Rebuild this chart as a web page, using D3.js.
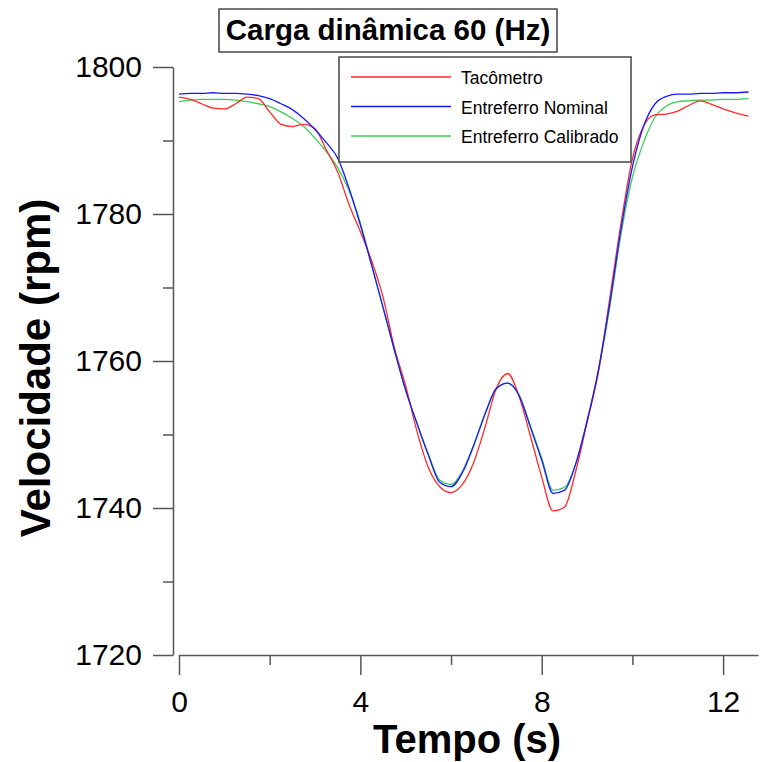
<!DOCTYPE html>
<html>
<head>
<meta charset="utf-8">
<script src="https://cdn.jsdelivr.net/npm/d3@7"></script>
<style>
  html, body { margin: 0; padding: 0; background: #fff; }
  svg { display: block; font-family: "Liberation Sans", Arial, sans-serif; }
</style>
</head>
<body>
<svg id="chart" width="760" height="762"></svg>
<script>
// ---- data ----
const title = "Carga dinâmica 60 (Hz)";
const xLabel = "Tempo (s)";
const yLabel = "Velocidade (rpm)";
const seriesNames = ["Tacômetro", "Entreferro Nominal", "Entreferro Calibrado"];
const seriesColors = ["#ff2a2a", "#1a1aff", "#3ccc5a"];
const xMajorTicks = [0, 4, 8, 12];
const xMinorTicks = [2, 6, 10];
const yMajorTicks = [1720, 1740, 1760, 1780, 1800];
const yMinorTicks = [1730, 1750, 1770, 1790];

const tempo = [0, 0.25, 0.5, 0.75, 1.0, 1.25, 1.5, 1.75, 2.0, 2.25, 2.5, 2.75, 3.0, 3.25, 3.5, 3.75,
  4.0, 4.25, 4.5, 4.75, 5.0, 5.25, 5.5, 5.75, 6.0, 6.25, 6.5, 6.75, 7.0, 7.25, 7.5, 7.75,
  8.0, 8.25, 8.5, 8.75, 9.0, 9.25, 9.5, 9.75, 10.0, 10.25, 10.5, 10.75, 11.0, 11.25, 11.5, 11.75,
  12.0, 12.25, 12.56];

const tacometro = [1795.9, 1795.6, 1795.0, 1794.4, 1794.3, 1795.0, 1795.9, 1795.7, 1793.9, 1792.2, 1791.9, 1792.2, 1791.6, 1788.7, 1785.7, 1781.3,
  1777.6, 1773.6, 1768.7, 1761.8, 1756.6, 1750.4, 1745.5, 1742.9, 1742.1, 1743.2, 1746.2, 1751.0, 1756.3, 1758.3, 1755.2, 1749.8,
  1744.2, 1739.6, 1740.1, 1745.0, 1751.7, 1758.5, 1768.5, 1778.8, 1787.5, 1792.0, 1793.5, 1793.6, 1794.0, 1794.8, 1795.4, 1794.9,
  1794.3, 1793.8, 1793.3];

const nominal = [1796.3, 1796.4, 1796.4, 1796.5, 1796.4, 1796.4, 1796.3, 1796.1, 1795.7, 1795.0, 1794.2, 1793.0, 1791.5, 1789.7, 1787.6, 1783.5,
  1778.5, 1773.0, 1767.3, 1761.5, 1756.0, 1751.5, 1747.2, 1743.5, 1742.9, 1744.8, 1748.5, 1752.8, 1756.3, 1757.0, 1755.3, 1751.0,
  1746.5, 1742.0, 1742.4, 1746.0, 1751.8, 1758.8, 1767.8, 1778.0, 1786.4, 1792.0, 1795.0, 1796.0, 1796.3, 1796.3, 1796.4, 1796.4,
  1796.5, 1796.5, 1796.6];

const calibrado = [1795.3, 1795.5, 1795.6, 1795.6, 1795.6, 1795.5, 1795.3, 1795.0, 1794.6, 1793.9, 1793.0, 1791.9, 1790.3, 1788.5, 1786.3, 1783.2,
  1778.8, 1773.0, 1767.3, 1761.5, 1756.0, 1751.5, 1747.3, 1743.8, 1743.2, 1745.0, 1748.6, 1752.8, 1756.2, 1757.0, 1755.4, 1751.2,
  1746.8, 1742.4, 1742.8, 1746.0, 1751.8, 1758.6, 1767.3, 1777.3, 1785.0, 1789.8, 1793.2, 1794.7, 1795.3, 1795.4, 1795.5, 1795.5,
  1795.6, 1795.6, 1795.7];

const seriesValues = [tacometro, nominal, calibrado];

// ---- drawing ----
const svg = d3.select("#chart");
const FONT = "'Liberation Sans', Arial, sans-serif";
const axisColor = "#555";

const x = d3.scaleLinear().domain([0, 12.77]).range([179, 758]);
const y = d3.scaleLinear().domain([1720, 1800]).range([655, 67]);

// X axis
const xAxisG = svg.append("g").attr("transform", "translate(0,655)");
xAxisG.call(d3.axisBottom(x).tickValues(xMajorTicks).tickSize(20).tickSizeOuter(0).tickFormat(d3.format("d")));
const xMinorG = svg.append("g").attr("transform", "translate(0,655)");
xMinorG.call(d3.axisBottom(x).tickValues(xMinorTicks).tickSize(10).tickSizeOuter(0).tickFormat(""));
xMinorG.select(".domain").remove();
xAxisG.selectAll("text").attr("y", 57).attr("dy", 0).style("font-size", "30px").style("font-family", FONT).attr("fill", "#000");

// Y axis
const yAxisG = svg.append("g").attr("transform", "translate(173,0)");
yAxisG.call(d3.axisLeft(y).tickValues(yMajorTicks).tickSize(20).tickSizeOuter(0).tickPadding(11).tickFormat(d3.format("d")));
const yMinorG = svg.append("g").attr("transform", "translate(173,0)");
yMinorG.call(d3.axisLeft(y).tickValues(yMinorTicks).tickSize(10).tickSizeOuter(0).tickFormat(""));
yMinorG.select(".domain").remove();
yAxisG.selectAll("text").style("font-size", "30px").style("font-family", FONT).attr("fill", "#000");

svg.selectAll(".domain, .tick line").attr("stroke", axisColor).attr("stroke-width", 1.5);

// Lines (draw calibrated, then tacometro, then nominal on top)
const line = d3.line()
  .x((d, i) => x(tempo[i]))
  .y(d => y(d))
  .curve(d3.curveMonotoneX);

[2, 0, 1].forEach(k => {
  svg.append("path")
    .datum(seriesValues[k])
    .attr("d", line)
    .attr("fill", "none")
    .attr("stroke", seriesColors[k])
    .attr("stroke-width", 1.3);
});

// Title box
const titleG = svg.append("g");
titleG.append("rect")
  .attr("x", 219).attr("y", 9).attr("width", 338).attr("height", 43)
  .attr("fill", "#fff").attr("stroke", "#444").attr("stroke-width", 1.5);
titleG.append("text")
  .attr("x", 388).attr("y", 40)
  .attr("text-anchor", "middle")
  .style("font-family", FONT).style("font-size", "29.5px").style("font-weight", "bold")
  .text(title);

// Legend
const legG = svg.append("g");
legG.append("rect")
  .attr("x", 339).attr("y", 57).attr("width", 292).attr("height", 105)
  .attr("fill", "#fff").attr("stroke", "#444").attr("stroke-width", 1.5);
const legY = d3.scalePoint().domain(seriesNames).range([77, 136]);
seriesNames.forEach((name, k) => {
  legG.append("line")
    .attr("x1", 351).attr("x2", 451)
    .attr("y1", legY(name)).attr("y2", legY(name))
    .attr("stroke", seriesColors[k]).attr("stroke-width", 1.3);
  legG.append("text")
    .attr("x", 461).attr("y", legY(name) + 7)
    .style("font-family", FONT).style("font-size", "17.5px")
    .text(name);
});

// Axis titles
svg.append("text")
  .attr("x", 467).attr("y", 753)
  .attr("text-anchor", "middle")
  .style("font-family", FONT).style("font-size", "40px").style("font-weight", "bold")
  .text(xLabel);

svg.append("text")
  .attr("transform", "translate(50,368) rotate(-90)")
  .attr("text-anchor", "middle")
  .style("font-family", FONT).style("font-size", "42px").style("font-weight", "bold")
  .text(yLabel);
</script>
</body>
</html>
